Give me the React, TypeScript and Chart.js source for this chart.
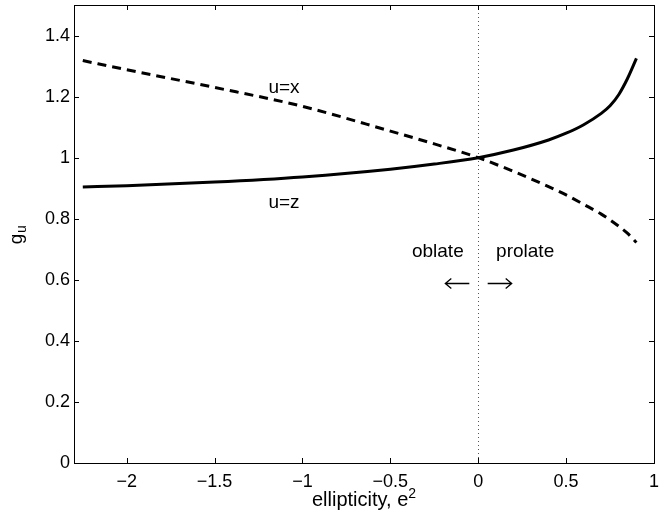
import React, { useEffect, useRef } from "react";
import { Chart, registerables } from "chart.js";

Chart.register(...registerables);

// ellipticity e^2 sample points
const ellipticity = [-2.25, -2, -1.5, -1, -0.5, -0.25, 0, 0.2, 0.4, 0.5, 0.6, 0.7, 0.75, 0.8, 0.85, 0.9];
// g_u for u = z (solid)
const gZ = [0.904, 0.908, 0.92, 0.937, 0.962, 0.979, 1.0, 1.025, 1.058, 1.08, 1.108, 1.145, 1.17, 1.207, 1.26, 1.325];
// g_u for u = x (dashed)
const gX = [1.318, 1.288, 1.23, 1.168, 1.087, 1.045, 1.0, 0.955, 0.905, 0.878, 0.847, 0.815, 0.796, 0.775, 0.752, 0.722];

const xTicks = [-2, -1.5, -1, -0.5, 0, 0.5, 1];
const yTicks = [0, 0.2, 0.4, 0.6, 0.8, 1, 1.2, 1.4];

const xMin = -2.3;
const xMax = 1;
const yMin = 0;
const yMax = 1.5;

// annotation texts (data coordinates)
const curveLabels = [
  { text: "u=x", x: -1.105, y: 1.212 },
  { text: "u=z", x: -1.105, y: 0.835 },
  { text: "oblate", x: -0.23, y: 0.675 },
  { text: "prolate", x: 0.267, y: 0.675 },
];
// arrows: centre (data) and direction
const arrows = [
  { x: -0.119, y: 0.589, dir: -1 },
  { x: 0.122, y: 0.589, dir: 1 },
];

const FONT = "'Liberation Sans', Arial, Helvetica, sans-serif";

const fmt = (v: number) => {
  let s = Number.isInteger(v) ? String(Math.abs(v)) : Math.abs(v).toFixed(1);
  if (v < 0) s = "\u2212" + s;
  return s;
};

const decorPlugin = {
  id: "decor",
  beforeDatasetsDraw(chart: any) {
    const { ctx, chartArea, scales } = chart;
    const x0 = Math.round(scales.x.getPixelForValue(0)) + 0.5;
    ctx.save();
    ctx.strokeStyle = "#555";
    ctx.lineWidth = 1;
    ctx.setLineDash([1, 3]);
    ctx.beginPath();
    ctx.moveTo(x0, chartArea.top);
    ctx.lineTo(x0, chartArea.bottom);
    ctx.stroke();
    ctx.restore();
  },
  afterDraw(chart: any) {
    const { ctx, chartArea, scales } = chart;
    const { left, right, top, bottom } = chartArea;
    ctx.save();
    ctx.strokeStyle = "#000";
    ctx.lineWidth = 1;
    ctx.setLineDash([]);
    ctx.strokeRect(Math.round(left) + 0.5, Math.round(top) + 0.5, Math.round(right - left), Math.round(bottom - top));
    const tl = 5;
    ctx.beginPath();
    xTicks.forEach((v) => {
      const px = Math.round(scales.x.getPixelForValue(v)) + 0.5;
      ctx.moveTo(px, bottom);
      ctx.lineTo(px, bottom - tl);
      ctx.moveTo(px, top);
      ctx.lineTo(px, top + tl);
    });
    yTicks.forEach((v) => {
      const py = Math.round(scales.y.getPixelForValue(v)) + 0.5;
      ctx.moveTo(left, py);
      ctx.lineTo(left + tl, py);
      ctx.moveTo(right, py);
      ctx.lineTo(right - tl, py);
    });
    ctx.stroke();

    // annotations
    ctx.fillStyle = "#000";
    ctx.textAlign = "center";
    ctx.textBaseline = "alphabetic";
    ctx.font = `19px ${FONT}`;
    curveLabels.forEach((l) => {
      ctx.fillText(l.text, scales.x.getPixelForValue(l.x), scales.y.getPixelForValue(l.y));
    });

    // arrows
    ctx.lineWidth = 1.3;
    arrows.forEach((a) => {
      const cx = scales.x.getPixelForValue(a.x);
      const cy = Math.round(scales.y.getPixelForValue(a.y)) + 0.5;
      const half = 12;
      const tip = cx + a.dir * half;
      ctx.beginPath();
      ctx.moveTo(cx - a.dir * half, cy);
      ctx.lineTo(tip, cy);
      ctx.moveTo(tip - a.dir * 6, cy - 5);
      ctx.lineTo(tip, cy);
      ctx.lineTo(tip - a.dir * 6, cy + 5);
      ctx.stroke();
    });

    // x title
    const cx = (left + right) / 2;
    ctx.textBaseline = "alphabetic";
    const main = "ellipticity, e";
    ctx.font = `20px ${FONT}`;
    const w1 = ctx.measureText(main).width;
    ctx.font = `14px ${FONT}`;
    const w2 = ctx.measureText("2").width;
    const sx = cx - (w1 + w2) / 2;
    ctx.textAlign = "left";
    ctx.font = `20px ${FONT}`;
    ctx.fillText(main, sx, 506);
    ctx.font = `14px ${FONT}`;
    ctx.fillText("2", sx + w1, 498);

    // y title
    ctx.translate(22, (top + bottom) / 2 + 5);
    ctx.rotate(-Math.PI / 2);
    ctx.textAlign = "center";
    ctx.font = `19px ${FONT}`;
    ctx.fillText("g", 0, 0);
    ctx.font = `14px ${FONT}`;
    ctx.fillText("u", 10, 4);
    ctx.restore();
  },
};

export default function App() {
  const ref = useRef<HTMLCanvasElement>(null);
  useEffect(() => {
    if (!ref.current) return;
    const chart = new Chart(ref.current, {
      type: "line",
      data: {
        datasets: [
          {
            label: "u=z",
            data: ellipticity.map((x, i) => ({ x, y: gZ[i] })),
            borderColor: "#000",
            borderWidth: 3,
            pointRadius: 0,
            cubicInterpolationMode: "monotone",
            fill: false,
          },
          {
            label: "u=x",
            data: ellipticity.map((x, i) => ({ x, y: gX[i] })),
            borderColor: "#000",
            borderWidth: 3,
            borderDash: [9, 6],
            pointRadius: 0,
            cubicInterpolationMode: "monotone",
            fill: false,
          },
        ],
      },
      options: {
        animation: false,
        responsive: true,
        maintainAspectRatio: false,
        layout: { autoPadding: false, padding: { top: 5, right: 18, left: 0, bottom: 0 } },
        plugins: { legend: { display: false }, tooltip: { enabled: false } },
        scales: {
          x: {
            type: "linear",
            min: xMin,
            max: xMax,
            afterBuildTicks: (s: any) => {
              s.ticks = xTicks.map((v) => ({ value: v }));
            },
            afterFit: (s: any) => {
              s.height = 55;
              s.paddingLeft = 0;
              s.paddingRight = 0;
              s.paddingTop = 0;
              s.paddingBottom = 0;
            },
            grid: { display: false, drawTicks: false },
            border: { display: false },
            ticks: {
              color: "#000",
              font: { family: FONT, size: 18 },
              padding: 8,
              maxRotation: 0,
              autoSkip: false,
              callback: (v: any) => fmt(Number(v)),
            },
          },
          y: {
            type: "linear",
            min: yMin,
            max: yMax,
            afterBuildTicks: (s: any) => {
              s.ticks = yTicks.map((v) => ({ value: v }));
            },
            afterFit: (s: any) => {
              s.width = 74;
              s.paddingLeft = 0;
              s.paddingRight = 0;
              s.paddingTop = 0;
              s.paddingBottom = 0;
            },
            grid: { display: false, drawTicks: false },
            border: { display: false },
            ticks: {
              color: "#000",
              font: { family: FONT, size: 18 },
              padding: 4,
              autoSkip: false,
              callback: (v: any) => fmt(Number(v)),
            },
          },
        },
      },
      plugins: [decorPlugin],
    });
    return () => chart.destroy();
  }, []);
  return (
    <div style={{ position: "fixed", left: 0, top: 0, width: 672, height: 518, background: "#fff" }}>
      <canvas ref={ref} />
    </div>
  );
}
